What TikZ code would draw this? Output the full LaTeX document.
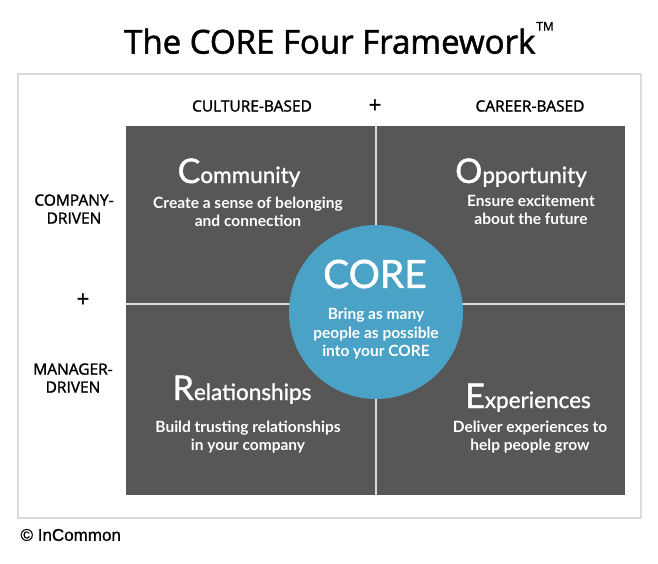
\documentclass[tikz,border=0pt]{standalone}
\usepackage{fontspec}
\setmainfont{Lato}
\newfontfamily\headfont[FakeBold=1.6]{Open Sans}
\newfontfamily\quadfont[FakeBold=1.2]{Lato}
\newfontfamily\notefont[FakeBold=0.8]{Liberation Sans}

\definecolor{quadgray}{HTML}{575757}
\definecolor{coreblue}{HTML}{4AA2C6}
\definecolor{framegray}{HTML}{DCDCDC}

\tikzset{
	axislabel/.style={font=\headfont\fontsize{15.5}{18}\selectfont, align=center},
	plussign/.style={font=\headfont\fontsize{22}{22}\selectfont},
	quadhead/.style={text=white, anchor=base, font=\quadfont\fontsize{22.5}{24}\selectfont},
	quadtext/.style={text=white, align=center, font=\bfseries\fontsize{15.5}{18.5}\selectfont},
}
\newcommand{\initial}[1]{{\fontsize{34}{34}\selectfont #1}}

\begin{document}
\begin{tikzpicture}[x=1pt, y=-1pt]
	\useasboundingbox (0,0) rectangle (658,564);
	\fill[white] (0,0) rectangle (658,564);

	\node[font=\headfont\fontsize{33}{40}\selectfont] (title) at (339,38) {The CORE Four Framework\raisebox{1.3ex}{\kern1pt\fontsize{12}{12}\selectfont TM}};

	% frame and quadrants
	\draw[framegray, line width=1.5pt] (18,74) rectangle (641,518);
	\fill[quadgray] (126,126) rectangle (625,495);
	\draw[framegray, line width=1.2pt] (376,126) -- (376,495);
	\draw[framegray, line width=1.2pt] (126,304) -- (625,304);

	% axes
	\node[axislabel] (culture) at (252,106) {CULTURE-BASED};
	\node[plussign] (plustop) at (375,106) {+};
	\node[axislabel] (career) at (530,106) {CAREER-BASED};
	\node[axislabel] (company) at (74,209) {COMPANY-\\DRIVEN};
	\node[plussign] (plusleft) at (83,300) {+};
	\node[axislabel] (manager) at (73,378) {MANAGER-\\DRIVEN};

	% the four parts
	\node[quadhead] (community) at (239,183) {\initial{C}ommunity};
	\node[quadtext] (communitytext) at (248,212) {Create a sense of belonging\\and connection};
	\node[quadhead] (opportunity) at (521,183) {\initial{O}pportunity};
	\node[quadtext] (opportunitytext) at (531,210) {Ensure excitement\\about the future};
	\node[quadhead] (relationships) at (242,400) {\initial{R}elationships};
	\node[quadtext] (relationshipstext) at (248,437) {Build trusting relationships\\in your company};
	\node[quadhead] (experiences) at (528,408) {\initial{E}xperiences};
	\node[quadtext] (experiencestext) at (530,437) {Deliver experiences to\\help people grow};

	% centre
	\node[circle, fill=coreblue, minimum size=174pt, inner sep=0pt] (core) at (376,312) {};
	\node[text=white, font=\quadfont\fontsize{39}{40}\selectfont] (coretitle) at (375,274) {CORE};
	\node[quadtext] (coretext) at (376,334) {Bring as many\\people as possible\\into your CORE};

	\node[anchor=west, font=\notefont\fontsize{17}{18}\selectfont] (copyright) at (17,535) {© InCommon};
\end{tikzpicture}
\end{document}
